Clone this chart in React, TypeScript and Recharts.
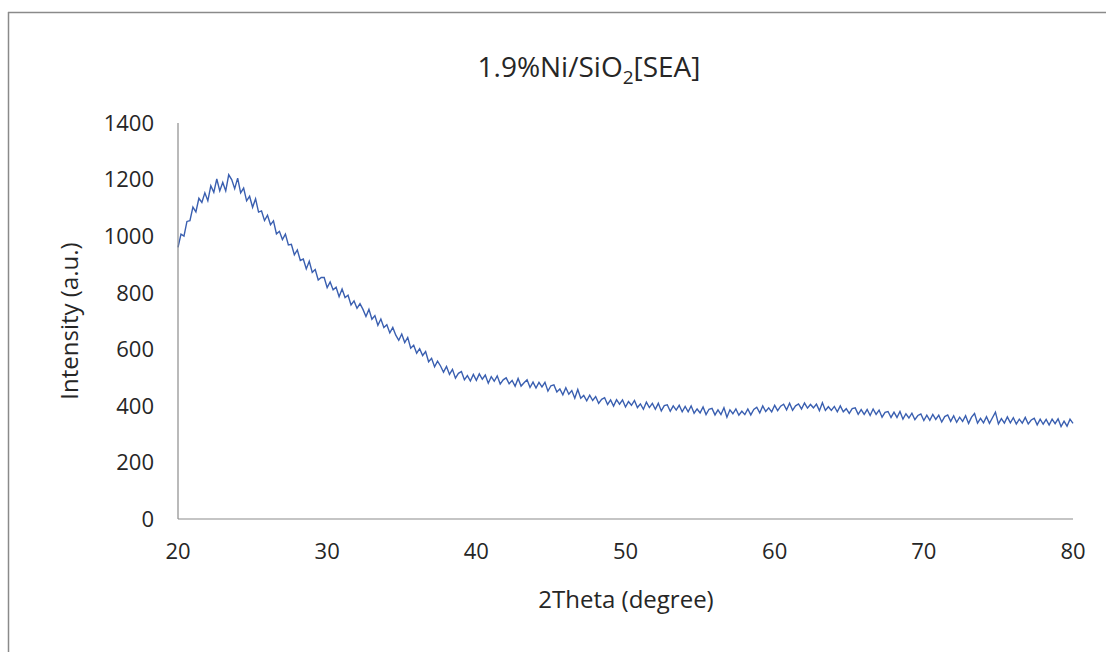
import React from "react";
import { LineChart, Line, XAxis, YAxis } from "recharts";

const title = "1.9%Ni/SiO";
const titleSub = "2";
const titleTail = "[SEA]";
const xLabel = "2Theta (degree)";
const yLabel = "Intensity (a.u.)";

const xTicks = [20, 30, 40, 50, 60, 70, 80];
const yTicks = [0, 200, 400, 600, 800, 1000, 1200, 1400];

const twoThetaStart = 20;
const twoThetaStep = 0.2;

const intensity = [
  960, 1007, 1000, 1052, 1055, 1103, 1086, 1134, 1119, 1153,
  1125, 1178, 1155, 1202, 1160, 1190, 1160, 1217, 1200, 1168,
  1205, 1153, 1170, 1125, 1141, 1102, 1132, 1085, 1089, 1055,
  1074, 1040, 1054, 1008, 1017, 988, 1007, 969, 971, 934,
  951, 914, 919, 884, 911, 872, 882, 845, 854, 854,
  818, 838, 810, 819, 786, 813, 783, 791, 757, 771,
  745, 761, 741, 716, 741, 706, 719, 685, 707, 677,
  687, 658, 677, 650, 632, 654, 624, 642, 604, 614,
  586, 602, 578, 592, 556, 568, 538, 558, 541, 519,
  539, 511, 529, 498, 515, 521, 492, 507, 488, 511,
  490, 513, 494, 509, 480, 503, 487, 506, 477, 492,
  499, 478, 490, 469, 497, 470, 482, 492, 465, 484,
  463, 483, 467, 483, 452, 471, 474, 449, 460, 439,
  464, 441, 454, 427, 458, 427, 437, 418, 438, 419,
  433, 409, 423, 429, 405, 421, 399, 422, 406, 421,
  396, 415, 402, 419, 394, 407, 388, 413, 394, 409,
  388, 409, 382, 401, 404, 381, 400, 385, 402, 379,
  398, 379, 400, 374, 389, 375, 396, 369, 388, 391,
  368, 386, 369, 393, 360, 386, 372, 389, 367, 381,
  369, 389, 368, 387, 395, 375, 400, 380, 393, 379,
  402, 383, 399, 406, 386, 409, 384, 400, 407, 389,
  410, 392, 405, 393, 406, 383, 411, 384, 397, 384,
  398, 379, 400, 379, 390, 373, 390, 393, 370, 387,
  370, 387, 366, 389, 370, 385, 360, 377, 380, 359,
  378, 359, 380, 353, 372, 357, 374, 351, 366, 371,
  348, 367, 349, 370, 352, 367, 343, 362, 368, 345,
  365, 342, 360, 345, 365, 338, 360, 373, 339, 356,
  340, 362, 338, 358, 378, 336, 355, 339, 361, 340,
  358, 336, 353, 339, 359, 336, 350, 356, 333, 353,
  335, 352, 332, 353, 337, 354, 327, 346, 328, 353,
  338,
];

const data = intensity.map((v, i) => ({
  x: Math.round((twoThetaStart + i * twoThetaStep) * 10) / 10,
  y: v,
}));

const FONT = "'Open Sans', 'Liberation Sans', sans-serif";
const TEXT = "#262626";
const AXIS = "#8c8c8c";

export default function App() {
  return (
    <div style={{ position: "absolute", left: 0, top: 0, width: 1106, height: 652, background: "#fff", overflow: "hidden" }}>
      <div style={{ position: "absolute", left: 0, top: 0 }}>
        <LineChart
          width={1106}
          height={652}
          data={data}
          margin={{ top: 123, right: 33, left: 118, bottom: 93 }}
        >
          <XAxis
            dataKey="x"
            type="number"
            domain={[20, 80]}
            ticks={xTicks}
            tickLine={false}
            tickSize={0}
            tickMargin={24}
            height={40}
            axisLine={{ stroke: AXIS, strokeWidth: 1.2 }}
            tick={{ fill: TEXT, fontSize: 22, fontFamily: FONT }}
            interval={0}
          />
          <YAxis
            type="number"
            domain={[0, 1400]}
            ticks={yTicks}
            tickLine={false}
            tickSize={0}
            tickMargin={24}
            width={60}
            axisLine={{ stroke: AXIS, strokeWidth: 1.2 }}
            tick={{ fill: TEXT, fontSize: 22, fontFamily: FONT }}
            interval={0}
          />
          <Line
            type="linear"
            dataKey="y"
            stroke="#3a5fb0"
            strokeWidth={1.4}
            dot={false}
            isAnimationActive={false}
          />
        </LineChart>
      </div>
      <svg
        width={1106}
        height={652}
        style={{ position: "absolute", left: 0, top: 0, pointerEvents: "none" }}
      >
        <line x1={8} y1={12.5} x2={1106} y2={12.5} stroke="#8a8a8a" strokeWidth={1.5} />
        <line x1={8.5} y1={12} x2={8.5} y2={652} stroke="#8a8a8a" strokeWidth={1.5} />
        <text x={589} y={77} textAnchor="middle" fontFamily={FONT} fontSize={28} fill={TEXT}>
          {title}
          <tspan fontSize={19} dy={7}>{titleSub}</tspan>
          <tspan fontSize={28} dy={-7}>{titleTail}</tspan>
        </text>
        <text x={626} y={608} textAnchor="middle" fontFamily={FONT} fontSize={24} fill={TEXT}>
          {xLabel}
        </text>
        <text
          x={68}
          y={321}
          textAnchor="middle"
          dominantBaseline="central"
          transform="rotate(-90, 68, 321)"
          fontFamily={FONT}
          fontSize={24}
          fill={TEXT}
        >
          {yLabel}
        </text>
      </svg>
    </div>
  );
}
